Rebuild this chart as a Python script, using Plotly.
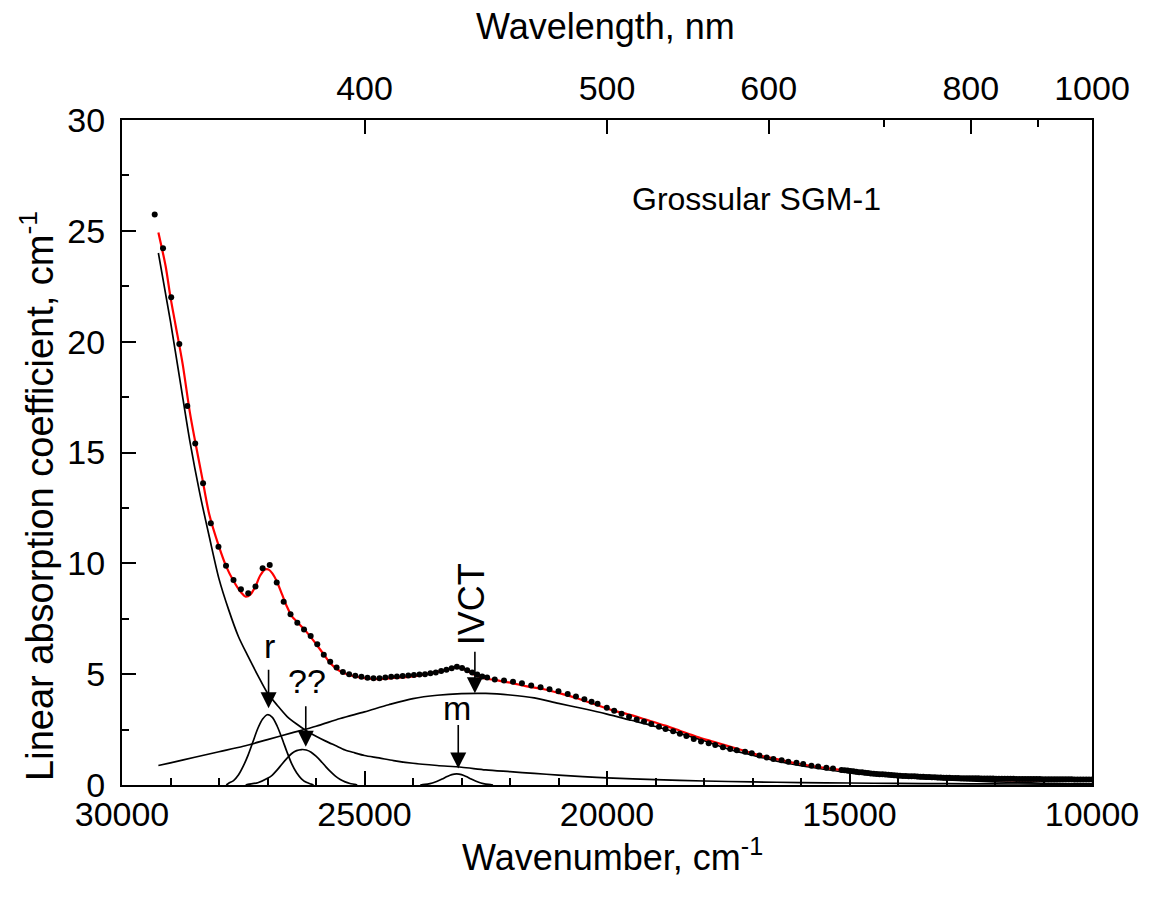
import plotly.graph_objects as go

# ---------------- data ----------------
# Measured spectrum, UV part: sampled every 2 nm
DOT_UV_NM = [341, 343, 345, 347, 349, 351, 353, 355, 357, 359, 361, 363, 365, 367, 369,
             371, 373, 375, 377, 379, 381, 383, 385, 387, 389, 391, 393, 395, 397, 399,
             401, 403, 405, 407, 409, 411, 413, 415, 417, 419, 421, 423, 425, 427, 429,
             431, 433, 435, 437, 439, 441, 443, 445]
DOT_UV_VAL = [25.74, 24.21, 22.00, 19.90, 17.10, 15.41, 13.61, 11.81, 10.75, 9.89, 9.25, 8.83,
              8.65, 8.95, 9.78, 9.92, 9.13, 8.27, 7.70, 7.32, 7.02, 6.72, 6.35, 5.88, 5.56,
              5.30, 5.10, 5.00, 4.93, 4.88, 4.84, 4.82, 4.82, 4.85, 4.88, 4.90, 4.92, 4.94,
              4.96, 4.98, 5.00, 5.04, 5.08, 5.14, 5.20, 5.27, 5.33, 5.28, 5.18, 5.08, 4.98,
              4.90, 4.85]

# Measured spectrum, visible part (wavenumber, cm-1)
DOT_VIS_WN = [22314, 22123, 21938, 21754, 21563, 21370, 21185, 21001, 20810, 20640, 20467,
              20318, 20195, 20004, 19852, 19700, 19545, 19388, 19237, 19087, 18929, 18793,
              18636, 18498, 18363, 18211, 18061, 17904, 17768, 17610, 17460, 17323, 17153,
              17015, 16857, 16707, 16570, 16400, 16262, 16093, 15955, 15785, 15647, 15477,
              15340, 15165]
DOT_VIS_VAL = [4.76, 4.71, 4.66, 4.59, 4.49, 4.41, 4.32, 4.23, 4.11, 3.99, 3.87, 3.76, 3.66,
               3.48, 3.35, 3.21, 3.08, 2.96, 2.86, 2.75, 2.63, 2.53, 2.43, 2.31, 2.21, 2.08,
               1.96, 1.88, 1.80, 1.70, 1.62, 1.57, 1.50, 1.43, 1.33, 1.24, 1.17, 1.12, 1.05,
               1.00, 0.95, 0.87, 0.83, 0.78, 0.74, 0.68]

# Measured spectrum, dense NIR part
DOT_NIR_WN = [15100, 15040, 14980, 14920, 14860, 14800, 14740, 14680, 14620, 14560, 14500,
              14440, 14380, 14320, 14260, 14200, 14140, 14080, 14020, 13960, 13900, 13840,
              13780, 13720, 13660, 13600, 13540, 13480, 13420, 13360, 13300, 13240, 13180,
              13120, 13060, 13000, 12940, 12880, 12820, 12760, 12700, 12640, 12580, 12520,
              12460, 12400, 12340, 12280, 12220, 12160, 12100, 12040, 11980, 11920, 11860,
              11800, 11740, 11680, 11620, 11560, 11500, 11440, 11380, 11320, 11260, 11200,
              11140, 11080, 11020, 10960, 10900, 10840, 10780, 10720, 10660, 10600, 10540,
              10480, 10420, 10360, 10300, 10240, 10180, 10120, 10060, 10000]
DOT_NIR_VAL = [0.66, 0.65, 0.63, 0.62, 0.60, 0.58, 0.57, 0.55, 0.54, 0.52, 0.51, 0.50, 0.49,
               0.48, 0.47, 0.46, 0.45, 0.44, 0.43, 0.42, 0.41, 0.41, 0.40, 0.39, 0.39, 0.38,
               0.37, 0.37, 0.36, 0.36, 0.35, 0.35, 0.34, 0.34, 0.33, 0.33, 0.33, 0.32, 0.32,
               0.32, 0.31, 0.31, 0.31, 0.30, 0.30, 0.30, 0.30, 0.29, 0.29, 0.29, 0.29, 0.29,
               0.28, 0.28, 0.28, 0.28, 0.28, 0.28, 0.28, 0.27, 0.27, 0.27, 0.27, 0.27, 0.27,
               0.27, 0.27, 0.27, 0.26, 0.26, 0.26, 0.26, 0.26, 0.26, 0.26, 0.26, 0.26, 0.26,
               0.26, 0.25, 0.25, 0.25, 0.25, 0.25, 0.25, 0.25]

# Fitted sum (red)
FIT_WN = [29250, 29100, 29000, 28900, 28750, 28600, 28500, 28350, 28200, 28000, 27850, 27700,
          27550, 27450, 27350, 27250, 27150, 27050, 26980, 26900, 26800, 26700, 26600, 26500,
          26400, 26300, 26200, 26100, 26000, 25850, 25700, 25550, 25400, 25200, 25000, 24700,
          24400, 24100, 23800, 23500, 23300, 23100, 22950, 22800, 22600, 22300, 22000, 21650,
          21300, 20950, 20600, 20200, 19900, 19500, 19200, 18800, 18500, 18150, 17800, 17450,
          17100, 16800, 16400, 16100, 15600, 15100, 14500, 14000, 13500, 13000, 12500, 12000,
          11500, 11000, 10500, 10000]
FIT_VAL = [24.93, 23.40, 22.00, 20.80, 19.00, 16.80, 15.60, 13.90, 12.20, 10.75, 9.85, 9.20,
           8.70, 8.50, 8.60, 8.95, 9.45, 9.72, 9.72, 9.55, 9.15, 8.60, 8.05, 7.62, 7.38, 7.15,
           6.92, 6.65, 6.37, 5.92, 5.48, 5.20, 5.03, 4.90, 4.82, 4.78, 4.83, 4.88, 4.97, 5.10,
           5.20, 5.30, 5.22, 5.05, 4.85, 4.73, 4.62, 4.45, 4.32, 4.12, 3.90, 3.60, 3.38, 3.15,
           2.95, 2.68, 2.45, 2.18, 1.95, 1.72, 1.50, 1.30, 1.12, 0.98, 0.80, 0.66, 0.53, 0.44,
           0.36, 0.30, 0.26, 0.23, 0.21, 0.20, 0.19, 0.18]

# UV absorption edge component
UV_WN = [29250, 29000, 28800, 28600, 28400, 28200, 28000, 27800, 27600, 27400, 27200, 27000,
         26800, 26600, 26400, 26200, 26000, 25800, 25600, 25400, 25200, 25000, 24700, 24400,
         24000, 23500, 23000, 22500, 22000, 21500, 21000, 20500, 20000, 19000, 18000, 17000,
         16000, 15000, 14000, 13000, 12000, 11000, 10000]
UV_VAL = [24.0, 20.9, 18.2, 15.5, 13.2, 11.2, 9.3, 7.9, 6.7, 5.8, 4.95, 4.15, 3.6, 3.1, 2.75,
          2.45, 2.2, 1.98, 1.78, 1.58, 1.45, 1.33, 1.22, 1.1, 0.98, 0.88, 0.8, 0.68, 0.6, 0.52,
          0.45, 0.38, 0.32, 0.24, 0.18, 0.14, 0.11, 0.09, 0.07, 0.06, 0.05, 0.04, 0.03]

# Broad IVCT band
IVCT_WN = [29250, 29000, 28500, 28000, 27500, 27000, 26500, 26000, 25500, 25000, 24500, 24000,
           23500, 23000, 22500, 22000, 21500, 21000, 20500, 20000, 19500, 19000, 18500, 18000,
           17500, 17000, 16500, 16000, 15500, 15000, 14500, 14000, 13500, 13000, 12500, 12000,
           11500, 11000, 10500, 10000]
IVCT_VAL = [0.88, 1.0, 1.25, 1.5, 1.75, 2.05, 2.35, 2.65, 3.0, 3.3, 3.62, 3.9, 4.05, 4.12, 4.13,
            4.06, 3.93, 3.68, 3.45, 3.2, 2.92, 2.64, 2.33, 2.0, 1.62, 1.35, 1.08, 0.87, 0.7,
            0.55, 0.44, 0.36, 0.29, 0.23, 0.18, 0.14, 0.11, 0.08, 0.06, 0.05]

# Band "r"
R_WN = [27850, 27800, 27700, 27600, 27500, 27400, 27300, 27200, 27100, 27000, 26900, 26800,
        26700, 26600, 26500, 26400, 26300, 26200, 26100, 26050]
R_VAL = [0.0, 0.08, 0.2, 0.45, 0.85, 1.35, 1.95, 2.55, 2.98, 3.17, 3.05, 2.65, 2.1, 1.5, 0.95,
         0.55, 0.28, 0.12, 0.04, 0.0]

# Band "??"
Q_WN = [27450, 27400, 27200, 27000, 26900, 26800, 26700, 26600, 26500, 26400, 26300, 26200,
        26100, 26000, 25900, 25800, 25700, 25600, 25500, 25400, 25300, 25200, 25150]
Q_VAL = [0.0, 0.03, 0.1, 0.3, 0.45, 0.68, 0.95, 1.2, 1.42, 1.55, 1.6, 1.58, 1.48, 1.3, 1.08,
         0.83, 0.6, 0.4, 0.25, 0.14, 0.07, 0.03, 0.0]

# Band "m"
M_WN = [23850, 23800, 23700, 23600, 23500, 23400, 23300, 23200, 23100, 23000, 22900, 22800,
        22700, 22600, 22500, 22400, 22350]
M_VAL = [0.0, 0.02, 0.04, 0.09, 0.17, 0.27, 0.38, 0.47, 0.5, 0.47, 0.38, 0.27, 0.17, 0.09,
         0.04, 0.02, 0.0]

X_TICKS = [30000, 25000, 20000, 15000, 10000]
Y_TICKS = [0, 5, 10, 15, 20, 25, 30]
TOP_NM_MAJOR = [400, 500, 600, 800, 1000]
TOP_NM_MINOR = [700, 900]

# Peak labels: (text, label wn, label value, arrow tip wn, arrow tip value, shaft px)
PEAK_LABELS = [("r", 26960, 6.27, 26978, 3.46, 40),
               ("??", 26195, 4.71, 26211, 1.73, 42),
               ("m", 23097, 3.47, 23067, 0.75, 45)]
IVCT_LABEL = ("IVCT", 22790, 8.14, 22724, 4.14, 43)

FONT = "Liberation Sans, Arial, sans-serif"

# ---------------- figure ----------------
fig = go.Figure()

line_black = dict(color="black", width=1.7, shape="spline", smoothing=0.8)
for wn, val in [(UV_WN, UV_VAL), (IVCT_WN, IVCT_VAL), (R_WN, R_VAL), (Q_WN, Q_VAL), (M_WN, M_VAL)]:
    fig.add_trace(go.Scatter(x=wn, y=val, mode="lines", line=line_black,
                             hoverinfo="skip", showlegend=False))

fig.add_trace(go.Scatter(x=FIT_WN, y=FIT_VAL, mode="lines",
                         line=dict(color="#ff0000", width=2.2, shape="spline", smoothing=0.8),
                         hoverinfo="skip", showlegend=False))

dot_x = [1e7 / nm for nm in DOT_UV_NM] + DOT_VIS_WN + DOT_NIR_WN
dot_y = DOT_UV_VAL + DOT_VIS_VAL + DOT_NIR_VAL
fig.add_trace(go.Scatter(x=dot_x, y=dot_y, mode="markers",
                         marker=dict(color="black", size=6, line=dict(width=0)),
                         hoverinfo="skip", showlegend=False))

# dummy traces so the top axes get drawn
fig.add_trace(go.Scatter(x=[None], y=[None], xaxis="x2", yaxis="y", showlegend=False, hoverinfo="skip"))
fig.add_trace(go.Scatter(x=[None], y=[None], xaxis="x3", yaxis="y", showlegend=False, hoverinfo="skip"))

tick_style = dict(ticks="inside", tickwidth=2, tickcolor="black", showgrid=False, zeroline=False)

fig.update_layout(
    width=1151, height=909,
    margin=dict(l=122, r=54, t=120, b=124),
    paper_bgcolor="white", plot_bgcolor="white",
    showlegend=False,
    font=dict(family=FONT, color="black", size=34),
    xaxis=dict(range=[30000, 10000], tickmode="array", tickvals=X_TICKS,
               ticktext=[str(v) for v in X_TICKS], ticklen=14,
               showline=True, linewidth=2, linecolor="black", mirror=True,
               tickfont=dict(family=FONT, size=34, color="black"), ticklabelstandoff=-2,
               minor=dict(ticks="inside", ticklen=7, tickwidth=2, tickcolor="black",
                          dtick=1000, tick0=10000, showgrid=False),
               **tick_style),
    xaxis2=dict(overlaying="x", side="top", range=[30000, 10000], tickmode="array",
                tickvals=[1e7 / nm for nm in TOP_NM_MAJOR],
                ticktext=[str(nm) for nm in TOP_NM_MAJOR], ticklen=14, showline=False,
                tickfont=dict(family=FONT, size=34, color="black"), ticklabelstandoff=12,
                **tick_style),
    xaxis3=dict(overlaying="x", side="top", range=[30000, 10000], tickmode="array",
                tickvals=[1e7 / nm for nm in TOP_NM_MINOR], ticklen=7, showline=False,
                showticklabels=False, **tick_style),
    yaxis=dict(range=[0, 30], tickmode="array", tickvals=Y_TICKS,
               ticktext=[str(v) for v in Y_TICKS], ticklen=14,
               showline=True, linewidth=2, linecolor="black", mirror=True,
               tickfont=dict(family=FONT, size=34, color="black"), ticklabelstandoff=8,
               minor=dict(ticks="inside", ticklen=7, tickwidth=2, tickcolor="black",
                          dtick=2.5, tick0=0, showgrid=False),
               **tick_style),
)

annotations = [
    dict(text="Wavenumber, cm<sup>-1</sup>", xref="paper", yref="paper", x=0.5056, y=-0.067,
         xanchor="center", yanchor="top", showarrow=False, font=dict(family=FONT, size=36)),
    dict(text="Wavelength, nm", xref="paper", yref="paper", x=0.4985, y=1.14,
         xanchor="center", yanchor="middle", showarrow=False, font=dict(family=FONT, size=36)),
    dict(text="Linear absorption coefficient, cm<sup>-1</sup>", xref="paper", yref="paper",
         x=-0.0871, y=0.434, xanchor="center", yanchor="middle", textangle=-90,
         showarrow=False, font=dict(family=FONT, size=38)),
    dict(text="Grossular SGM-1", x=16913, y=26.43, xref="x", yref="y", xanchor="center",
         yanchor="middle", showarrow=False, font=dict(family=FONT, size=32)),
]
for txt, lx, ly, tx, ty, shaft in PEAK_LABELS + [IVCT_LABEL]:
    annotations.append(dict(text=txt, x=lx, y=ly, xref="x", yref="y", showarrow=False,
                            xanchor="center", yanchor="middle",
                            textangle=-90 if txt == "IVCT" else 0,
                            font=dict(family=FONT, size=36 if txt == "IVCT" else 34)))
    annotations.append(dict(text="", x=tx, y=ty, xref="x", yref="y", showarrow=True,
                            ax=0, ay=-shaft, arrowhead=2, arrowsize=2.0, arrowwidth=1.6,
                            arrowcolor="black", standoff=0))
fig.update_layout(annotations=annotations)

fig.write_html("out.html")
